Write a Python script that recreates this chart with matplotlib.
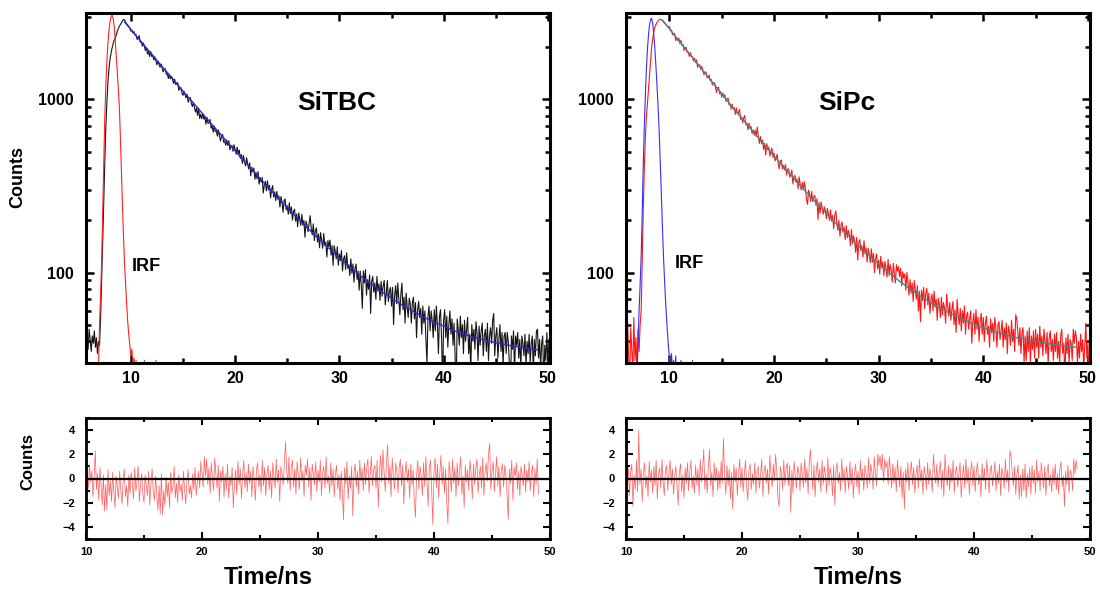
import numpy as np
import matplotlib
matplotlib.use("Agg")
import matplotlib.pyplot as plt
from matplotlib.ticker import FixedLocator, MultipleLocator, LogLocator, NullFormatter, FixedFormatter

plt.rcParams['font.family'] = ['Liberation Sans', 'DejaVu Sans']
plt.rcParams['font.weight'] = 'bold'

# ---------------- data ----------------
# SiTBC decay (black), 0.1 ns channels starting at 5.7 ns
sitbc_t0 = 5.7
sitbc_counts = (
    [38, 44, 36, 47, 41, 35, 43, 39, 46, 37, 42, 34, 40] +
    [38, 55, 90, 150, 260, 430, 680, 950, 1250, 1500, 1700, 1850, 1980, 2100, 2200, 2260, 2350, 2480, 2560, 2650, 2710, 2780, 2850, 2900, 2880] +
    [2790, 2740, 2700, 2640, 2600] +
    [2481, 2523, 2418, 2470, 2361, 2366, 2224, 2270, 2336, 2142] +
    [2168, 2035, 2123, 2021, 1916, 1997, 1829, 1897, 1772, 1891] +
    [1773, 1792, 1692, 1762, 1667, 1586, 1664, 1596, 1536, 1601] +
    [1516, 1445, 1490, 1507, 1397, 1408, 1321, 1396, 1317, 1360] +
    [1306, 1238, 1309, 1221, 1229, 1251, 1129, 1158, 1171, 1092] +
    [1056, 1112, 1063, 1022, 1069, 964, 1004, 1027, 950, 911] +
    [960, 901, 847, 891, 809, 892, 777, 822, 774, 828] +
    [770, 791, 720, 788, 728, 730, 766, 682, 704, 648] +
    [701, 653, 658, 614, 666, 617, 575, 615, 628, 566] +
    [577, 544, 583, 542, 577, 512, 531, 543, 502, 547] +
    [516, 482, 530, 486, 510, 456, 480, 427, 475, 439] +
    [413, 461, 426, 397, 430, 362, 406, 382, 402, 346] +
    [379, 348, 383, 324, 353, 333, 355, 288, 320, 336] +
    [296, 339, 300, 319, 270, 301, 318, 273, 292, 260] +
    [294, 265, 277, 239, 275, 253, 223, 261, 266, 230] +
    [243, 217, 253, 219, 239, 201, 225, 232, 198, 218] +
    [184, 221, 203, 187, 217, 188, 200, 160, 198, 188] +
    [172, 193, 213, 180, 165, 191, 153, 175, 181, 150] +
    [167, 139, 170, 153, 138, 168, 143, 150, 123, 153] +
    [141, 154, 126, 143, 110, 143, 133, 120, 141, 110] +
    [128, 117, 134, 102, 120, 125, 104, 130, 106, 111] +
    [96, 120, 99, 112, 88, 106, 112, 91, 102, 79] +
    [102, 85, 62, 102, 87, 104, 74, 91, 80, 97] +
    [58, 89, 95, 77, 87, 70, 95, 78, 86, 69] +
    [89, 73, 84, 90, 65, 77, 90, 68, 78, 82] +
    [64, 82, 50, 74, 84, 66, 87, 71, 57, 75] +
    [87, 61, 72, 51, 76, 64, 55, 71, 66, 51] +
    [67, 72, 54, 67, 42, 61, 68, 55, 62, 44] +
    [64, 51, 60, 41, 30, 56, 64, 46, 60, 53] +
    [42, 61, 46, 64, 50, 34, 56, 61, 42, 22] +
    [53, 61, 42, 56, 37, 50, 60, 44, 54, 38] +
    [51, 33, 21, 54, 47, 38, 56, 42, 50, 34] +
    [53, 40, 47, 55, 34, 44, 27, 50, 40, 47] +
    [36, 52, 45, 31, 49, 38, 46, 51, 33, 43] +
    [47, 35, 51, 31, 43, 48, 39, 53, 58, 33] +
    [43, 48, 32, 41, 50, 35, 45, 29, 43, 45] +
    [34, 45, 40, 30, 17, 43, 36, 46, 26, 43] +
    [38, 45, 32, 41, 28, 43, 39, 33, 44, 29] +
    [40, 34, 44, 30, 39, 43, 27, 41, 33, 46] +
    [47, 32, 41, 28, 39, 43, 22, 38, 31, 45, 29, 41]
)

# SiTBC instrument response (red), 0.1 ns channels starting at 6.9 ns
sitbc_irf_t0 = 6.9
sitbc_irf = [28, 50, 75, 115, 220, 420, 780, 1200, 1650, 2100, 2500, 2800, 3000, 3080, 2950,
             2650, 2200, 1800, 1450, 1150, 900, 600, 380, 240, 160, 110, 85, 66, 52, 44, 38,
             33, 36, 29, 32, 27, 31, 26, 24, 30, 22, 25, 20, 22, 31, 20, 18, 22, 19, 24, 21,
             18, 20, 19, 23, 31, 18]

# SiTBC fit (blue)
sitbc_fit_t = [9.4] + list(range(10, 50))
sitbc_fit = [2800, 2540, 2150, 1830, 1550, 1320, 1120, 954, 812, 693, 591, 505, 433, 371, 319,
             275, 238, 206, 179, 157, 138, 121, 108, 96, 86, 78, 71, 65, 60, 55.5, 52, 49, 46,
             44, 42, 40.6, 39.3, 38.2, 37.3, 36.4, 35.8]

# SiPc decay (red), 0.1 ns channels starting at 5.8 ns
sipc_t0 = 5.8
sipc_counts = (
    [45, 28, 52, 33, 24, 48, 36, 27, 55, 31, 42, 26, 47, 35, 50] +
    [60, 120, 230, 400, 600, 800, 950, 1150, 1400, 1700, 2000, 2250, 2450, 2600, 2700, 2780, 2840, 2880, 2900, 2900, 2880, 2850] +
    [2800, 2760, 2700, 2660, 2610] +
    [2648, 2487, 2516, 2360, 2412, 2405, 2192, 2280, 2182, 2262] +
    [2100, 2200, 2054, 2078, 1921, 1990, 1998, 1869, 1882, 1773] +
    [1867, 1767, 1777, 1669, 1729, 1634, 1692, 1532, 1586, 1584] +
    [1490, 1554, 1461, 1391, 1442, 1436, 1333, 1363, 1381, 1283] +
    [1308, 1213, 1244, 1251, 1172, 1099, 1172, 1177, 1079, 1108] +
    [1030, 1089, 1030, 1066, 975, 1008, 1019, 930, 944, 884] +
    [938, 876, 899, 821, 894, 825, 840, 877, 767, 792] +
    [736, 783, 808, 715, 732, 668, 731, 680, 698, 636] +
    [667, 621, 666, 611, 693, 606, 558, 610, 557, 583] +
    [515, 557, 478, 555, 512, 531, 470, 503, 523, 462] +
    [490, 441, 462, 481, 429, 397, 443, 446, 396, 416] +
    [392, 421, 366, 395, 397, 355, 370, 391, 325, 359] +
    [364, 332, 347, 305, 357, 323, 300, 331, 300, 335] +
    [305, 265, 248, 299, 284, 258, 294, 257, 274, 279] +
    [245, 267, 203, 254, 221, 256, 235, 217, 240, 230] +
    [205, 235, 217, 200, 230, 198, 214, 179, 213, 227] +
    [195, 175, 200, 162, 188, 196, 171, 183, 155, 187] +
    [159, 175, 165, 143, 177, 147, 163, 152, 131, 160] +
    [118, 150, 155, 134, 143, 123, 153, 128, 139, 115] +
    [138, 127, 114, 137, 115, 129, 100, 120, 128, 105] +
    [118, 98, 124, 106, 115, 96, 116, 106, 94, 119] +
    [96, 111, 103, 88, 113, 99, 87, 111, 102, 108] +
    [95, 106, 84, 101, 93, 98, 79, 100, 88, 74] +
    [91, 76, 87, 68, 90, 80, 70, 84, 60, 78] +
    [52, 79, 69, 82, 62, 75, 81, 65, 76, 58] +
    [70, 75, 60, 78, 63, 70, 53, 71, 65, 55] +
    [72, 57, 67, 62, 51, 75, 64, 56, 67, 53] +
    [61, 68, 50, 61, 45, 70, 57, 50, 62, 46] +
    [60, 51, 64, 44, 56, 59, 47, 54, 60, 39] +
    [52, 58, 44, 61, 47, 55, 40, 53, 58, 44] +
    [55, 40, 51, 56, 44, 49, 37, 54, 45, 51] +
    [40, 55, 48, 37, 50, 52, 41, 46, 53, 37] +
    [48, 41, 51, 34, 49, 45, 38, 53, 40, 47] +
    [35, 57, 54, 45, 38, 48, 34, 45, 48, 30] +
    [43, 31, 46, 35, 48, 30, 43, 36, 46, 32] +
    [47, 37, 44, 32, 49, 37, 43, 33, 47, 40] +
    [34, 45, 30, 42, 46, 35, 41, 31, 44, 35] +
    [45, 32, 40, 30, 43, 47, 34, 39, 24, 42] +
    [34, 44, 30, 41, 39, 31, 47, 39, 46, 42] +
    [30, 40, 32, 44, 35, 41, 28, 38, 51, 32, 39, 26, 42]
)

# SiPc instrument response (blue), 0.1 ns channels starting at 6.9 ns
sipc_irf_t0 = 6.9
sipc_irf = [25, 40, 60, 85, 125, 220, 420, 700, 1050, 1500, 1950, 2350, 2700, 2900, 2950,
            2750, 2400, 2000, 1600, 1250, 950, 700, 480, 320, 210, 140, 100, 75, 58, 46, 38,
            32, 28, 34, 26, 31, 24, 33, 22, 25, 20, 23, 31, 20, 22, 19, 21, 18, 20, 19, 21,
            18, 20, 31, 19]

# SiPc fit (teal)
sipc_fit_t = [9.3] + list(range(10, 50))
sipc_fit = [2870, 2560, 2150, 1810, 1520, 1280, 1080, 906, 768, 652, 554, 471, 402, 344, 295,
            254, 219, 190, 165, 144, 127, 112, 100, 89, 80.5, 73, 67, 61.7, 57.3, 53.6, 50.5,
            47.9, 45.7, 43.9, 42.3, 41, 39.9, 39, 38.2, 37.5, 37]

# Weighted residuals, 0.1 ns channels starting at 10 ns
resid_t0 = 10.0
sitbc_resid = (
    [-1.2, 0.5, -0.8, 1.1, -0.3, 0.6, -1.5, 0.2, 2.3, -0.9] +
    [0.4, -1.8, 0.9, -0.6, -2.2, 0.3, -2.7, -0.5, -2.6, 0.7] +
    [-1.4, -0.2, -1.9, 0.5, -1.1, -2.4, 0.2, -0.8, -1.6, 0.6] +
    [-0.9, -2.1, -0.3, 0.8, -1.5, -0.6, -2.3, 0.3, -1.2, 0.5] +
    [-0.4, -1.7, 0.9, -1.0, -0.2, 1.0, -1.9, -0.5, 0.4, -1.3] +
    [-2.0, 0.3, -0.7, -1.4, 0.6, -2.2, -0.4, 0.8, -1.1, -1.8] +
    [0.2, -1.3, -2.6, -0.6, -2.9, 0.4, -3.0, -1.0, -2.2, 0.1] +
    [-1.5, -0.3, -2.4, 0.5, -1.2, -0.7, 1.0, -1.6, -0.4, -2.0] +
    [0.3, -1.1, -0.5, -1.8, 0.6, -0.9, -2.1, -0.2, 0.7, -1.3] +
    [-0.6, -1.6, 0.4, -0.9, 0.9, -1.4, -0.3, 0.6, -0.8, 1.4] +
    [0.5, -0.7, 1.8, 0.2, 1.6, -0.5, 0.9, -1.2, 1.3, 0.0] +
    [-1.0, 1.7, 0.3, -0.8, 1.1, -1.9, 0.6, -0.3, 1.0, -1.5] +
    [0.4, -0.9, 1.2, -1.6, 0.2, -0.6, 0.9, -2.4, -0.4, 0.7] +
    [-1.3, 1.4, -0.5, 0.8, -1.7, 0.3, 1.5, -0.8, 0.5, -1.1] +
    [1.2, -0.4, 0.6, -1.5, 1.0, -0.2, -1.8, 0.8, 1.3, -0.7] +
    [0.3, -1.2, 1.5, -0.6, 0.9, -1.4, 0.4, 1.1, -0.9, 0.6] +
    [-1.6, 1.3, 0.2, -0.8, 1.6, -0.3, 0.7, -1.9, 1.0, 0.4] +
    [-0.5, 1.2, 3.0, 0.6, -0.4, 1.8, -1.0, 0.9, 1.5, -0.7] +
    [0.8, -1.3, 1.4, 0.2, -0.9, 1.7, -0.2, 0.6, -1.5, 1.1] +
    [0.3, 1.6, -0.7, 0.9, -1.8, 1.2, 0.4, -0.5, 1.4, -1.1] +
    [0.7, -0.3, 1.5, -1.4, 0.5, 1.0, -0.8, 1.8, -0.4, 0.2] +
    [-1.2, 1.3, -0.6, 0.8, -1.5, 0.4, 1.1, -0.9, 0.3, -1.8] +
    [0.6, -1.1, -3.4, 0.9, -0.5, 1.4, -1.7, 0.2, -0.8, 1.0] +
    [-3.1, 0.4, 1.2, -0.7, 0.6, -1.3, 1.5, -0.2, 0.8, -1.0] +
    [1.3, -0.5, 0.9, 1.6, -1.2, 0.3, 1.8, -0.6, 0.7, 1.1] +
    [-0.8, 1.5, -2.4, 0.6, 1.9, -0.3, 2.4, 0.5, -1.1, 1.2] +
    [2.8, -0.4, 1.0, -1.5, 1.7, 0.2, -0.9, 1.3, 0.6, -1.2] +
    [0.9, 1.6, -0.6, 1.1, -2.1, 0.4, 1.4, -0.3, 0.8, -1.6] +
    [1.2, -0.5, 0.7, -1.8, -3.2, 0.3, 1.5, -0.9, 1.0, 0.2] +
    [-1.4, 1.3, -0.7, 1.8, -0.2, -2.3, 0.9, 1.5, -1.0, -3.8] +
    [0.6, 1.7, -0.8, 1.2, -1.6, 0.4, 1.9, -0.5, 1.0, -1.2] +
    [0.8, -2.0, -3.7, 1.4, 0.3, -1.1, 1.6, -0.4, 0.9, -1.5] +
    [1.3, -0.6, 0.5, 1.8, -1.3, 0.2, -2.4, 1.1, -0.3, 0.7] +
    [-1.0, 1.5, 0.4, -1.7, 1.2, -0.5, 0.8, 1.6, -1.2, 0.3] +
    [1.0, -0.8, 1.7, -1.4, 0.5, 1.3, -0.2, 2.1, 2.9, -0.9] +
    [0.6, 1.4, -1.1, 0.3, 1.8, -0.6, 1.0, -1.5, 0.7, 1.2] +
    [-0.7, 1.1, 0.4, -1.3, -3.4, 0.8, -0.4, 1.5, -1.8, 0.9] +
    [0.2, 1.3, -0.9, 0.6, -1.4, 1.0, 0.3, -0.6, 1.2, -1.1] +
    [0.7, -0.3, 1.4, -1.0, 0.5, 1.1, -1.5, 0.8, -0.5, 1.6] +
    [-1.3]
)
sipc_resid = (
    [1.8, -0.6, 0.9, -1.4, 0.5, 1.2, -2.3, 0.3, -0.9, 1.5] +
    [-1.1, 4.0, -0.5, 0.8, -1.9, 0.4, 1.3, -0.8, 0.2, -1.5] +
    [1.4, -0.3, 0.7, -1.2, 1.0, -0.6, 1.5, -1.7, 0.3, 0.9] +
    [-0.8, 1.6, -0.2, -1.4, 0.6, 1.1, -1.0, 0.4, 1.5, -0.5] +
    [0.8, -1.3, 0.2, 1.0, -0.7, -2.2, 0.5, 1.2, -1.1, 0.3] +
    [-1.6, 0.9, -0.4, 1.3, -1.0, 0.6, 1.5, -0.8, 0.2, -1.2] +
    [1.1, -0.5, 0.8, -1.4, 1.6, -0.3, 0.7, 2.4, -0.9, 0.4] +
    [-1.2, 1.0, 2.4, -0.6, 0.5, -1.5, 1.3, -0.2, 0.9, -1.0] +
    [0.6, -0.8, 1.4, -0.4, 3.3, 0.2, -1.3, 1.1, -0.6, 0.8] +
    [-1.7, 0.5, -2.5, 1.2, -0.3, 0.9, -1.4, 0.4, 1.6, -0.7] +
    [0.9, -1.1, 0.3, 1.5, -0.6, -1.8, 0.7, 1.2, -0.9, 0.4] +
    [-0.5, 1.3, -1.2, 0.6, 1.0, -0.8, 0.2, 1.6, -1.5, 0.5] +
    [1.1, -0.4, 0.8, -1.3, 1.9, 0.3, -0.7, 1.2, -0.2, 2.0] +
    [0.6, -1.6, -2.3, 1.0, 0.4, -0.9, 1.5, -0.5, 0.8, 1.3] +
    [-0.6, 1.1, -2.8, 0.7, -1.2, 1.4, 0.2, -0.8, 1.0, 0.5] +
    [-1.0, 1.3, 0.3, -0.7, 1.6, -0.4, 0.9, -1.3, 1.2, 2.4] +
    [0.4, -0.9, 1.1, -1.5, 0.6, 1.4, -0.3, 0.8, -1.1, 1.5] +
    [-0.5, 1.0, 0.3, -1.2, 1.7, -0.6, 0.9, 0.2, -1.4, 1.1] +
    [-2.2, 0.7, 1.3, -0.4, 0.5, -1.0, 1.6, -0.3, 0.8, -1.2] +
    [1.0, 0.2, -0.9, 1.4, -0.5, 0.9, -1.6, 0.4, 1.2, -0.7] +
    [0.6, -1.3, 1.5, -0.2, 0.8, -1.0, 1.1, 0.3, -0.8, 1.7] +
    [-0.4, 1.2, 0.5, -0.9, 1.8, 0.4, -0.6, 2.0, 1.1, 1.9] +
    [0.7, 2.0, -0.3, 1.6, 0.9, 1.4, -0.5, 1.8, 0.6, -0.8] +
    [1.2, -0.4, 0.9, -1.1, 1.5, 0.3, -0.7, 1.0, -1.6, 0.5] +
    [-2.5, 0.8, -0.3, 1.3, -1.0, 0.6, 1.4, -0.5, 0.9, -1.2] +
    [0.4, 1.1, -0.8, 1.6, -0.2, 0.7, -1.3, 1.0, 0.3, -0.9] +
    [1.3, -0.5, 0.8, 0.2, -1.1, 2.0, 0.6, -0.4, 1.2, -0.7] +
    [0.5, 1.4, -0.9, 0.7, -1.5, 2.0, 0.3, -0.6, 1.1, -1.0] +
    [0.8, -0.3, 1.5, -1.2, 0.6, 1.0, -0.7, 0.4, 1.3, -1.6] +
    [0.2, 1.1, -0.8, 1.6, -0.4, 0.9, -1.3, 0.5, 1.4, -0.6] +
    [1.0, -1.1, 0.6, 1.3, -0.5, 0.3, -1.5, 1.2, -0.2, 0.8] +
    [-0.9, 1.5, 0.4, -1.2, 0.7, 1.1, -0.6, 0.2, 1.4, -1.0] +
    [0.6, -0.4, 1.2, -1.4, 0.9, 0.3, -0.8, 1.6, -0.3, 0.7] +
    [-1.1, 2.3, 1.8, 0.5, -0.6, 1.0, -1.3, 0.4, 1.1, -1.7] +
    [0.3, -1.5, 0.8, -1.0, 1.2, -1.6, 0.4, -0.7, 0.9, -1.3] +
    [1.1, -0.4, 0.7, -1.2, 1.5, -0.3, 0.6, -1.0, 1.3, 0.2] +
    [-0.8, 1.0, -1.4, 0.5, 1.2, -0.6, 0.3, -1.1, 0.9, -0.5] +
    [1.2, -0.9, 0.4, -1.3, 0.8, 1.4, -0.7, 0.2, -2.3, 0.6] +
    [-0.5, 1.1, -1.2, 0.7, 0.3, -1.0, 1.6, 0.4, 1.5, 0.8]
)

top_yticks = [100, 1000]
top_ytick_labels = ['100', '1000']
x_major = [10, 20, 30, 40, 50]
res_yticks = [-4, -2, 0, 2, 4]


def channels(t0, values):
    return t0 + 0.1 * np.arange(len(values))


# ---------------- figure ----------------
W, H = 1100, 589
fig = plt.figure(figsize=(W / 100, H / 100), dpi=100)


def fax(x0, y0, x1, y1):
    return fig.add_axes([x0 / W, 1 - y1 / H, (x1 - x0) / W, (y1 - y0) / H])


axA = fax(86, 13, 550, 363)
axB = fax(626, 13, 1090, 363)
axC = fax(86, 418, 550, 539)
axD = fax(626, 418, 1090, 539)

lw_data = 0.8

# SiTBC
axA.plot(channels(sitbc_t0, sitbc_counts), sitbc_counts, color='#151515', lw=lw_data)
axA.plot(channels(sitbc_irf_t0, sitbc_irf), sitbc_irf, color='#ff2020', lw=lw_data)
axA.plot(sitbc_fit_t, sitbc_fit, color='#2a2ad8', lw=1.0)
axA.set_xlim(5.7, 50.2)

# SiPc
axB.plot(channels(sipc_t0, sipc_counts), sipc_counts, color='#ff1515', lw=lw_data)
axB.plot(channels(sipc_irf_t0, sipc_irf), sipc_irf, color='#3030ff', lw=lw_data)
axB.plot(sipc_fit_t, sipc_fit, color='#3a8c8c', lw=1.0)
axB.set_xlim(5.85, 50.2)

for ax in (axA, axB):
    ax.set_yscale('log')
    ax.set_ylim(30, 3160)
    ax.yaxis.set_major_locator(FixedLocator(top_yticks))
    ax.yaxis.set_major_formatter(FixedFormatter(top_ytick_labels))
    ax.yaxis.set_minor_locator(LogLocator(base=10, subs=range(2, 10)))
    ax.yaxis.set_minor_formatter(NullFormatter())
    ax.xaxis.set_major_locator(FixedLocator(x_major))
    ax.xaxis.set_minor_locator(MultipleLocator(5))
    ax.tick_params(which='both', direction='in', top=True, right=True, width=1.8,
                   labelsize=11.5)
    ax.tick_params(axis='y', pad=9)
    ax.tick_params(axis='x', pad=6)
    ax.tick_params(which='major', length=6)
    ax.tick_params(which='minor', length=3.5)
    for s in ax.spines.values():
        s.set_linewidth(2.2)
    for lab in ax.get_xticklabels() + ax.get_yticklabels():
        lab.set_fontweight('bold')

# Residuals
axC.plot(channels(resid_t0, sitbc_resid), sitbc_resid, color='#ff4040', lw=0.55, alpha=0.8)
axD.plot(channels(resid_t0, sipc_resid), sipc_resid, color='#ff4040', lw=0.55, alpha=0.8)
for ax in (axC, axD):
    ax.axhline(0, color='black', lw=1.6)
    ax.set_xlim(10, 50)
    ax.set_ylim(-5, 5)
    ax.xaxis.set_major_locator(FixedLocator(x_major))
    ax.xaxis.set_minor_locator(MultipleLocator(5))
    ax.yaxis.set_major_locator(FixedLocator(res_yticks))
    ax.yaxis.set_minor_locator(MultipleLocator(1))
    ax.tick_params(which='both', direction='in', top=True, right=True, width=1.5,
                   labelsize=8)
    ax.tick_params(axis='y', pad=8)
    ax.tick_params(axis='x', pad=6)
    ax.tick_params(which='major', length=5)
    ax.tick_params(which='minor', length=3)
    for s in ax.spines.values():
        s.set_linewidth(2.0)
    for lab in ax.get_xticklabels() + ax.get_yticklabels():
        lab.set_fontweight('bold')

# Texts
axA.text(29.7, 955, 'SiTBC', fontsize=19, fontweight='bold', ha='center', va='center')
axB.text(27.0, 955, 'SiPc', fontsize=19, fontweight='bold', ha='center', va='center')
axA.text(10.1, 109, 'IRF', fontsize=13, fontweight='bold', ha='left', va='center')
axB.text(10.5, 113, 'IRF', fontsize=13, fontweight='bold', ha='left', va='center')

fig.text(18 / W, 1 - 177 / H, 'Counts', rotation=90, fontsize=13, fontweight='bold',
         ha='center', va='center')
fig.text(28 / W, 1 - 462 / H, 'Counts', rotation=90, fontsize=12, fontweight='bold',
         ha='center', va='center')
fig.text(268 / W, 1 - 578 / H, 'Time/ns', fontsize=17, fontweight='bold', ha='center', va='center')
fig.text(858 / W, 1 - 578 / H, 'Time/ns', fontsize=17, fontweight='bold', ha='center', va='center')

fig.savefig('out.png', dpi=100)
